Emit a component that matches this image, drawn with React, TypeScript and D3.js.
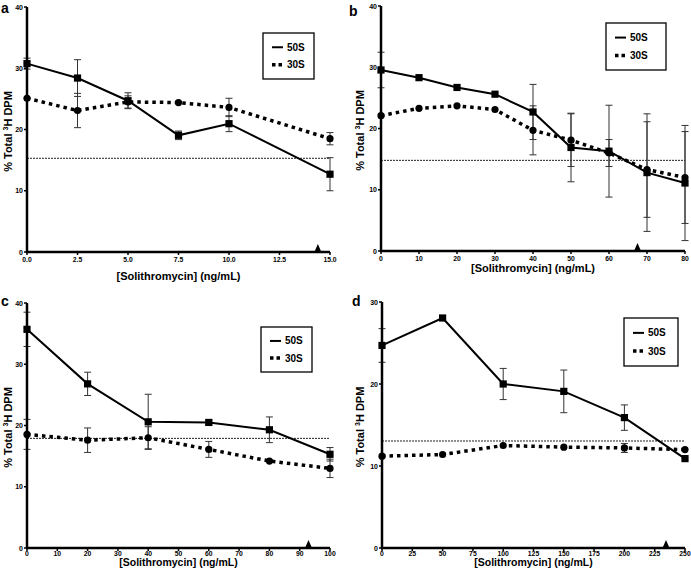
import React from "react";
import * as d3 from "d3";

// ---------- data ----------
const aX = [0, 2.5, 5, 7.5, 10, 15];
const a50 = [30.75, 28.4, 24.7, 19.05, 20.95, 12.7];
const a50Err = [0.9, 3.0, 1.3, 0.7, 1.3, 2.7];
const a30 = [25.1, 23.1, 24.5, 24.4, 23.6, 18.5];
const a30Err = [0, 2.8, 1.0, 0.3, 1.5, 1.0];
const aThreshold = 15.3;
const aArrow = 14.4;
const aXTicks = [0, 2.5, 5, 7.5, 10, 12.5, 15];
const aYTicks = [0, 10, 20, 30, 40];

const bX = [0, 10, 20, 30, 40, 50, 60, 70, 80];
const b50 = [29.55, 28.3, 26.7, 25.6, 22.7, 16.9, 16.3, 12.8, 11.1];
const b50Err = [2.9, 0.3, 0.3, 0.3, 4.5, 5.6, 7.5, 9.6, 9.4];
const b30 = [22.1, 23.3, 23.7, 23.1, 19.7, 18.1, 16.0, 13.3, 12.0];
const b30Err = [0, 0, 0, 0, 4.0, 4.3, 2.2, 7.8, 7.5];
const bThreshold = 14.8;
const bArrow = 67.5;
const bXTicks = [0, 10, 20, 30, 40, 50, 60, 70, 80];
const bYTicks = [0, 10, 20, 30, 40];

const cX = [0, 20, 40, 60, 80, 100];
const c50 = [35.7, 26.8, 20.6, 20.5, 19.3, 15.3];
const c50Err = [2.8, 1.9, 4.5, 0.4, 2.1, 1.1];
const c30 = [18.55, 17.6, 18.0, 16.1, 14.2, 13.0];
const c30Err = [2.45, 2.0, 1.8, 1.3, 0.3, 1.5];
const cThreshold = 17.9;
const cArrow = 92.9;
const cXTicks = [0, 10, 20, 30, 40, 50, 60, 70, 80, 90, 100];
const cYTicks = [0, 10, 20, 30, 40];

const dX = [0, 50, 100, 150, 200, 250];
const d50 = [24.7, 28.05, 20.0, 19.1, 15.9, 10.9];
const d50Err = [2.05, 0.2, 1.9, 2.6, 1.55, 0.3];
const d30 = [11.2, 11.4, 12.5, 12.3, 12.2, 12.0];
const d30Err = [0, 0, 0, 0, 0.55, 0];
const dThreshold = 13.05;
const dArrow = 234.3;
const dXTicks = [0, 25, 50, 75, 100, 125, 150, 175, 200, 225, 250];
const dYTicks = [0, 10, 20, 30];

const seriesNames = ["50S", "30S"];
const xLabel = "[Solithromycin] (ng/mL)";

const FONT = "'Liberation Sans', Arial, Helvetica, sans-serif";

type PanelProps = {
  letter: string;
  xs: number[];
  s50: number[];
  e50: number[];
  s30: number[];
  e30: number[];
  threshold: number;
  arrow: number;
  xTicks: number[];
  yTicks: number[];
  xDomain: [number, number];
  yDomain: [number, number];
  xRange: [number, number];
  yRange: [number, number];
  tickFmt: (v: number) => string;
  letterPos: [number, number];
  yLabelX: number;
  xLabelY: number;
  xTickDy: number;
  xLabelSize: number;
  legend: [number, number, number, number];
};

function Panel(p: PanelProps) {
  const x = d3.scaleLinear().domain(p.xDomain).range(p.xRange);
  const y = d3.scaleLinear().domain(p.yDomain).range(p.yRange);
  const line = d3
    .line<number>()
    .x((_, i) => x(p.xs[i]))
    .y((v) => y(v));
  const x0 = p.xRange[0];
  const x1 = p.xRange[1];
  const y0 = p.yRange[0];
  const yTop = p.yRange[1];
  const capW = 3.5;
  const errBars = (vals: number[], errs: number[], key: string) =>
    vals.map((v, i) =>
      errs[i] > 0.35 ? (
        <g key={key + i} stroke="#333" strokeWidth={1}>
          <line x1={x(p.xs[i])} x2={x(p.xs[i])} y1={y(v + errs[i])} y2={y(v - errs[i])} />
          <line x1={x(p.xs[i]) - capW} x2={x(p.xs[i]) + capW} y1={y(v + errs[i])} y2={y(v + errs[i])} />
          <line x1={x(p.xs[i]) - capW} x2={x(p.xs[i]) + capW} y1={y(v - errs[i])} y2={y(v - errs[i])} />
        </g>
      ) : null
    );
  const [lx, ly, lw, lh] = p.legend;
  const ax = x(p.arrow);
  return (
    <g>
      <text x={p.letterPos[0]} y={p.letterPos[1]} fontSize={14} fontWeight="bold" fontFamily={FONT}>
        {p.letter}
      </text>
      {/* threshold */}
      <line x1={x0} x2={x1} y1={y(p.threshold)} y2={y(p.threshold)} stroke="#222" strokeWidth={1} strokeDasharray="2,1" />
      {/* error bars */}
      {errBars(p.s50, p.e50, "e50")}
      {errBars(p.s30, p.e30, "e30")}
      {/* lines */}
      <path d={line(p.s30) || ""} fill="none" stroke="#000" strokeWidth={3.5} strokeDasharray="3.5,4" />
      <path d={line(p.s50) || ""} fill="none" stroke="#000" strokeWidth={2} />
      {p.s30.map((v, i) => (
        <circle key={"c" + i} cx={x(p.xs[i])} cy={y(v)} r={3.6} fill="#000" />
      ))}
      {p.s50.map((v, i) => (
        <rect key={"s" + i} x={x(p.xs[i]) - 3.6} y={y(v) - 3.6} width={7.2} height={7.2} fill="#000" />
      ))}
      {/* arrow marker */}
      <path d={`M${ax - 3.5},${y0} L${ax},${y0 - 8} L${ax + 3.5},${y0} Z`} fill="#000" />
      {/* axes */}
      <line x1={x0} x2={x0} y1={yTop} y2={y0 + 1} stroke="#000" strokeWidth={2.5} />
      <line x1={x0 - 1} x2={x1} y1={y0} y2={y0} stroke="#000" strokeWidth={2.5} />
      {p.yTicks.map((t) => (
        <g key={"yt" + t}>
          <line x1={x0 - 3} x2={x0} y1={y(t)} y2={y(t)} stroke="#000" strokeWidth={1.5} />
          <text x={x0 - 4} y={y(t) + 2.5} fontSize={7} fontWeight="bold" textAnchor="end" fontFamily={FONT}>
            {t}
          </text>
        </g>
      ))}
      {p.xTicks.map((t) => (
        <g key={"xt" + t}>
          <line x1={x(t)} x2={x(t)} y1={y0} y2={y0 + 3} stroke="#000" strokeWidth={1.5} />
          <text x={x(t)} y={y0 + p.xTickDy} fontSize={6.8} fontWeight="bold" textAnchor="middle" fontFamily={FONT}>
            {p.tickFmt(t)}
          </text>
        </g>
      ))}
      <text
        x={(x0 + x1) / 2}
        y={p.xLabelY}
        fontSize={p.xLabelSize}
        fontWeight="bold"
        textAnchor="middle"
        fontFamily={FONT}
      >
        {xLabel}
      </text>
      <text
        transform={`translate(${p.yLabelX},${(yTop + y0) / 2 + 2}) rotate(-90)`}
        fontSize={11}
        fontWeight="bold"
        textAnchor="middle"
        fontFamily={FONT}
      >
        % Total{" "}
        <tspan fontSize={7} dy={-4}>
          3
        </tspan>
        <tspan dy={4}>H DPM</tspan>
      </text>
      {/* legend */}
      <rect x={lx} y={ly} width={lw} height={lh} fill="#fff" stroke="#000" strokeWidth={1.3} />
      <line x1={lx + 9} x2={lx + 20} y1={ly + lh * 0.31} y2={ly + lh * 0.31} stroke="#000" strokeWidth={2} />
      <line x1={lx + 9} x2={lx + 20} y1={ly + lh * 0.69} y2={ly + lh * 0.69} stroke="#000" strokeWidth={3.5} strokeDasharray="3.5,3" />
      <text x={lx + 24} y={ly + lh * 0.31 + 3.5} fontSize={10} fontWeight="bold" fontFamily={FONT}>
        {seriesNames[0]}
      </text>
      <text x={lx + 24} y={ly + lh * 0.69 + 3.5} fontSize={10} fontWeight="bold" fontFamily={FONT}>
        {seriesNames[1]}
      </text>
    </g>
  );
}

export default function App() {
  const f1 = (v: number) => v.toFixed(1);
  const f0 = (v: number) => String(v);
  return (
    <svg
      width={691}
      height={574}
      style={{ position: "absolute", left: 0, top: 0, background: "#fff" }}
    >
      <rect width={691} height={574} fill="#fff" />
      <Panel
        letter="a"
        xs={aX}
        s50={a50}
        e50={a50Err}
        s30={a30}
        e30={a30Err}
        threshold={aThreshold}
        arrow={aArrow}
        xTicks={aXTicks}
        yTicks={aYTicks}
        xDomain={[0, 15]}
        yDomain={[0, 40]}
        xRange={[27, 330]}
        yRange={[252, 7]}
        tickFmt={f1}
        letterPos={[1, 13]}
        yLabelX={12}
        xLabelY={280}
        xTickDy={9.5}
        xLabelSize={11}
        legend={[263, 33, 51, 46]}
      />
      <Panel
        letter="b"
        xs={bX}
        s50={b50}
        e50={b50Err}
        s30={b30}
        e30={b30Err}
        threshold={bThreshold}
        arrow={bArrow}
        xTicks={bXTicks}
        yTicks={bYTicks}
        xDomain={[0, 80]}
        yDomain={[0, 40]}
        xRange={[381, 685]}
        yRange={[251, 6]}
        tickFmt={f0}
        letterPos={[349, 16]}
        yLabelX={364}
        xLabelY={272}
        xTickDy={9.5}
        xLabelSize={11}
        legend={[606, 23, 60, 47]}
      />
      <Panel
        letter="c"
        xs={cX}
        s50={c50}
        e50={c50Err}
        s30={c30}
        e30={c30Err}
        threshold={cThreshold}
        arrow={cArrow}
        xTicks={cXTicks}
        yTicks={cYTicks}
        xDomain={[0, 100]}
        yDomain={[0, 40]}
        xRange={[27, 330]}
        yRange={[548, 303]}
        tickFmt={f0}
        letterPos={[1, 306]}
        yLabelX={12}
        xLabelY={566}
        xTickDy={8}
        xLabelSize={10.5}
        legend={[261, 327, 51, 45]}
      />
      <Panel
        letter="d"
        xs={dX}
        s50={d50}
        e50={d50Err}
        s30={d30}
        e30={d30Err}
        threshold={dThreshold}
        arrow={dArrow}
        xTicks={dXTicks}
        yTicks={dYTicks}
        xDomain={[0, 250]}
        yDomain={[0, 30]}
        xRange={[382, 685]}
        yRange={[548, 302]}
        tickFmt={f0}
        letterPos={[352, 306]}
        yLabelX={364}
        xLabelY={566}
        xTickDy={8}
        xLabelSize={10.5}
        legend={[624, 318, 54, 48]}
      />
    </svg>
  );
}
